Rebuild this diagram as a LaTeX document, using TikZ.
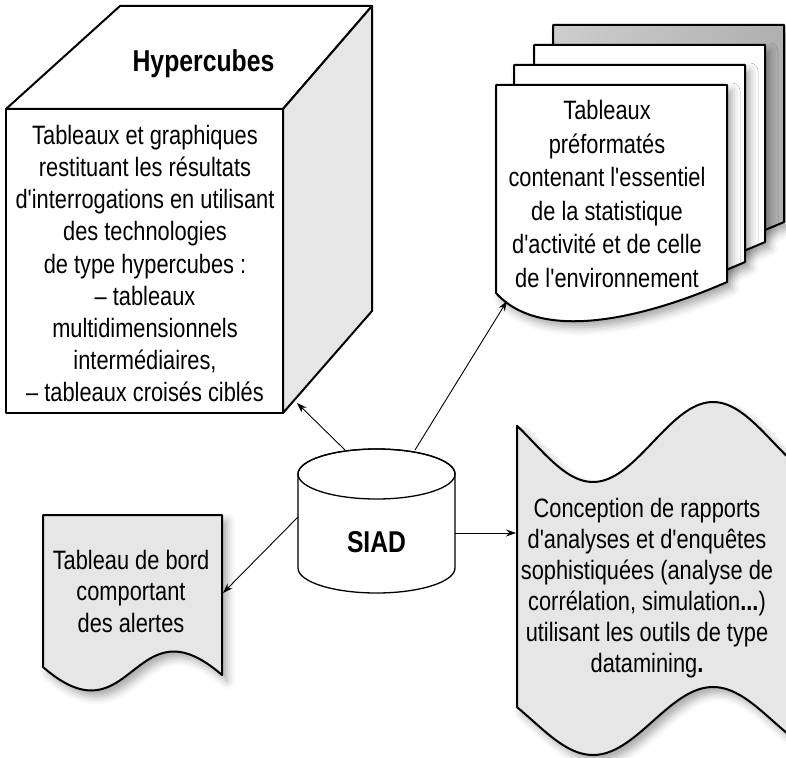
\documentclass[tikz,border=0pt]{standalone}
\usepackage{fontspec}
\setmainfont{Liberation Sans}[Ligatures=TeXOff, FakeStretch=0.82]
\usetikzlibrary{arrows.meta,shadows.blur}
\definecolor{facegray}{HTML}{E6E6E6}
\definecolor{sheetlight}{HTML}{CDCDCD}
\definecolor{sheetdark}{HTML}{AFAFAF}

\begin{document}
\begin{tikzpicture}[x=1pt,y=-1pt,
  outline/.style={draw=black, line width=2pt, line join=round},
  softshadow/.style={blur shadow={shadow xshift=5pt, shadow yshift=-6pt,
      shadow blur radius=8pt, shadow opacity=35}},
  body/.style={font=\fontsize{26.6}{32.2}\selectfont, align=center, inner sep=0pt},
  link/.style={draw=black, line width=0.9pt, -{Stealth[length=10pt,width=7pt]}},
]
\useasboundingbox (0,0) rectangle (786,757);

% ---- Hypercube block: corner points ----
\coordinate (fTL) at (6,109);
\coordinate (fTR) at (283,109);
\coordinate (fBR) at (283,413);
\coordinate (fBL) at (6,413);
\coordinate (bTL) at (120,6);
\coordinate (bTR) at (372,6);
\coordinate (bBR) at (372,311);
\filldraw[outline, fill=white] (fTL) -- (bTL) -- (bTR) -- (fTR) -- cycle;
\filldraw[outline, fill=facegray] (fTR) -- (bTR) -- (bBR) -- (fBR) -- cycle;
\filldraw[outline, fill=white] (fTL) -- (fTR) -- (fBR) -- (fBL) -- cycle;
\node[font=\fontsize{30.2}{34}\selectfont\bfseries, inner sep=0pt] (cubetitle) at (203.5,63.2) {Hypercubes};
\node[body] (cubetext) at (145,263.6) {Tableaux et graphiques\\restituant les résultats\\d'interrogations en utilisant\\des technologies\\de type hypercubes :\\– tableaux\\multidimensionnels\\intermédiaires,\\– tableaux croisés ciblés};
\coordinate (cubeHit) at (297,403);

% ---- stack of report sheets ----
\newcommand\sheetshape{(496,85) -- (727,85) -- (727,282) .. controls (640,320) and (540,342) .. (496,293) -- cycle}
\begin{scope}[shift={(57,-60)}]
  \path[outline, left color=sheetlight, right color=sheetdark, softshadow] \sheetshape;
\end{scope}
\begin{scope}[shift={(38,-40)}]
  \path[outline, fill=white, softshadow] \sheetshape;
\end{scope}
\begin{scope}[shift={(18,-20)}]
  \path[outline, fill=white, softshadow] \sheetshape;
\end{scope}
\path[outline, fill=white, softshadow] \sheetshape;
\node[body, font=\fontsize{26.6}{33.6}\selectfont] (stacktext) at (607,193.9) {Tableaux\\préformatés\\contenant l'essentiel\\de la statistique\\d'activité et de celle\\de l'environnement};
\coordinate (stackHit) at (507,301);

% ---- dashboard document ----
\path[outline, fill=facegray, softshadow] (43,515) -- (222,515) -- (222,675)
   .. controls (132.5,597) and (132.5,745) .. (43,667) -- cycle;
\node[body, font=\fontsize{26.6}{31.5}\selectfont] (boardtext) at (131,591.3) {Tableau de bord\\comportant\\des alertes};
\coordinate (boardHit) at (223,593);

% ---- datamining tape (one sine period = 240), cut by the page edge ----
\begin{scope}
  \clip (500,380) rectangle (786,757);
  \path[outline, fill=facegray, softshadow]
     plot[domain=517:830, samples=90] (\x, {442+40*sin(1.5*(\x-533))})
     -- plot[domain=830:517, samples=90] (\x, {721+34*sin(1.5*(\x-533))})
     -- cycle;
\end{scope}
\node[body, font=\fontsize{26.6}{31}\selectfont] (minetext) at (647,588.1) {Conception de rapports\\d'analyses et d'enquêtes\\sophistiquées (analyse de\\corrélation, simulation{\bfseries ...})\\utilisant les outils de type\\datamining{\bfseries .}};
\coordinate (mineHit) at (516,533);

% ---- SIAD cylinder ----
\path[draw=black, line width=1.3pt, fill=white]
   (298,474) -- (298,568)
   .. controls (298,581.8) and (333.1,593) .. (376.5,593)
   .. controls (419.9,593) and (455,581.8) .. (455,568)
   -- (455,474)
   .. controls (455,460.2) and (419.9,449) .. (376.5,449)
   .. controls (333.1,449) and (298,460.2) .. (298,474) -- cycle;
\draw[line width=1.3pt] (376.5,474) ellipse [x radius=78.5, y radius=25];
\node[inner sep=0pt, font=\fontsize{30.1}{32}\selectfont\bfseries] (siad) at (376.5,542.2) {SIAD};
\coordinate (siadTL) at (345,450);
\coordinate (siadTR) at (415,450);
\coordinate (siadL) at (298,517);
\coordinate (siadR) at (455,533);

% ---- connectors ----
\draw[link] (siadTL) -- (cubeHit);
\draw[link] (siadTR) -- (stackHit);
\draw[link] (siadL) -- (boardHit);
\draw[link] (siadR) -- (mineHit);
\end{tikzpicture}
\end{document}
